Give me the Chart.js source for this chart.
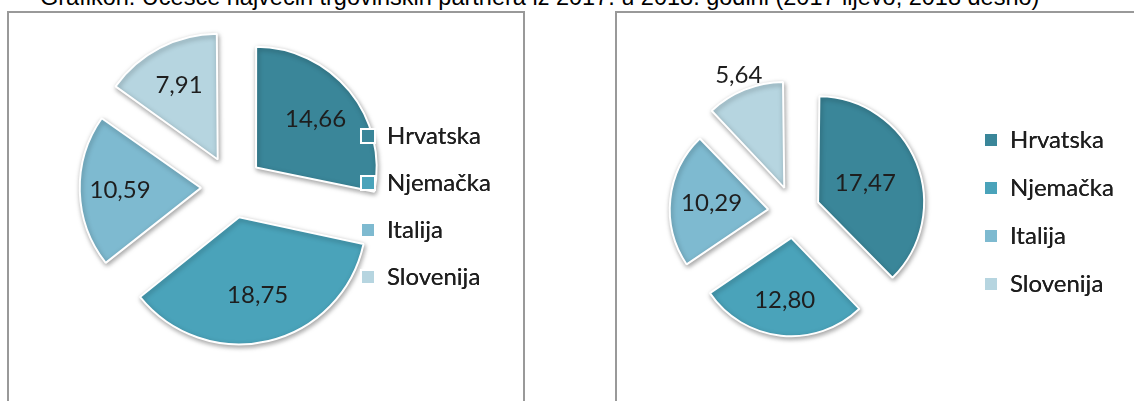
<!DOCTYPE html>
<html>
<head>
<meta charset="utf-8">
<script src="https://cdn.jsdelivr.net/npm/chart.js@4.4.1/dist/chart.umd.min.js"></script>
<style>
  body { margin: 0; width: 1134px; height: 401px; overflow: hidden; background: #fff; position: relative; }
  .title { position: absolute; left: 40px; top: -15px; font: 23.5px/24px "Liberation Sans", Arial, sans-serif; white-space: nowrap; color: #000; }
  .panel { position: absolute; top: 11px; border: 2px solid #999; background: #fff; }
  #p1 { left: 7px; width: 514px; height: 400px; }
  #p2 { left: 615px; width: 600px; height: 400px; }
  canvas { position: absolute; left: 0; top: 0; }
</style>
</head>
<body>
<div class="title">Grafikon: Učešće najvećih trgovinskih partnera iz 2017. u 2018. godini (2017 lijevo, 2018 desno)</div>
<div class="panel" id="p1"><canvas id="pie2017" width="514" height="388"></canvas></div>
<div class="panel" id="p2"><canvas id="pie2018" width="517" height="388"></canvas></div>
<script>
// data
const countries = ['Hrvatska', 'Njemačka', 'Italija', 'Slovenija'];
const share2017 = [14.66, 18.75, 10.59, 7.91];
const share2018 = [17.47, 12.80, 10.29, 5.64];
const sliceColors = ['#3a8699', '#4aa3ba', '#7ebad0', '#b6d5e0'];

const FONT = 'Lato';
const LEGEND_SIZE = 24;

function fmt(v) {
    return v.toFixed(2).replace('.', ',');
}

function textWidth(txt, font) {
    const c = document.createElement('canvas').getContext('2d');
    c.font = font;
    return c.measureText(txt).width;
}

// soft shadow under the slices
const sliceShadow = {
    id: 'sliceShadow',
    beforeDatasetsDraw(chart) {
        const ctx = chart.ctx;
        ctx.save();
        ctx.shadowColor = 'rgba(0,0,0,0.35)';
        ctx.shadowBlur = 5;
        ctx.shadowOffsetX = 1;
        ctx.shadowOffsetY = 2;
    },
    afterDatasetsDraw(chart) {
        chart.ctx.restore();
        // legend boxes sit on top of the slices
        if (chart.legend) chart.legend.draw();
    }
};

// value labels on the slices
const sliceLabels = {
    id: 'sliceLabels',
    afterDatasetsDraw(chart, args, opts) {
        const ctx = chart.ctx;
        const meta = chart.getDatasetMeta(0);
        const values = chart.data.datasets[0].data;
        ctx.save();
        ctx.font = opts.size + 'px ' + FONT;
        ctx.fillStyle = '#1e1e1e';
        ctx.textAlign = 'center';
        ctx.textBaseline = 'middle';
        meta.data.forEach((arc, i) => {
            const mid = (arc.startAngle + arc.endAngle) / 2;
            const d = arc.options.offset / 4 + opts.dist[i] * arc.outerRadius;
            ctx.fillText(fmt(values[i]), arc.x + Math.cos(mid) * d, arc.y + Math.sin(mid) * d);
        });
        ctx.restore();
    }
};

function createPie(canvasId, values, cfg) {
    const canvas = document.getElementById(canvasId);
    const legendFont = LEGEND_SIZE + 'px ' + FONT;
    const maxText = Math.max(...countries.map(c => textWidth(c, legendFont)));
    const itemW = cfg.box + LEGEND_SIZE / 2 + maxText;
    const padRight = canvas.width - cfg.boxLeft - itemW - 10;
    const legendLeft = cfg.boxLeft - cfg.legendPad;
    const padLeft = 2 * cfg.cx - legendLeft;

    new Chart(canvas.getContext('2d'), {
        type: 'pie',
        data: {
            labels: countries,
            datasets: [{
                data: values,
                backgroundColor: sliceColors,
                borderColor: '#ffffff',
                borderWidth: 2,
                offset: cfg.offset
            }]
        },
        options: {
            responsive: false,
            animation: false,
            events: [],
            radius: cfg.radius,
            layout: {
                padding: {left: padLeft, right: padRight, top: cfg.top, bottom: canvas.height - cfg.bottom}
            },
            plugins: {
                tooltip: {enabled: false},
                legend: {
                    position: 'right',
                    align: cfg.align,
                    labels: {
                        boxWidth: cfg.box,
                        boxHeight: cfg.box,
                        padding: cfg.legendPad,
                        color: '#1e1e1e',
                        font: {family: FONT, size: LEGEND_SIZE}
                    }
                },
                sliceLabels: {size: 24, dist: cfg.dist}
            }
        },
        plugins: [sliceShadow, sliceLabels]
    });
}

createPie('pie2017', share2017, {
    radius: 120, offset: 124, cx: 223, top: 49, bottom: 299, align: 'end',
    boxLeft: 352, box: 14, legendPad: 23,
    dist: [0.64, 0.67, 0.675, 0.70]
});
createPie('pie2018', share2018, {
    radius: 98, offset: 104, cx: 177, top: 88, bottom: 310, align: 'center',
    boxLeft: 367, box: 14, legendPad: 24,
    dist: [0.52, 0.64, 0.58, 1.24]
});
</script>
</body>
</html>
